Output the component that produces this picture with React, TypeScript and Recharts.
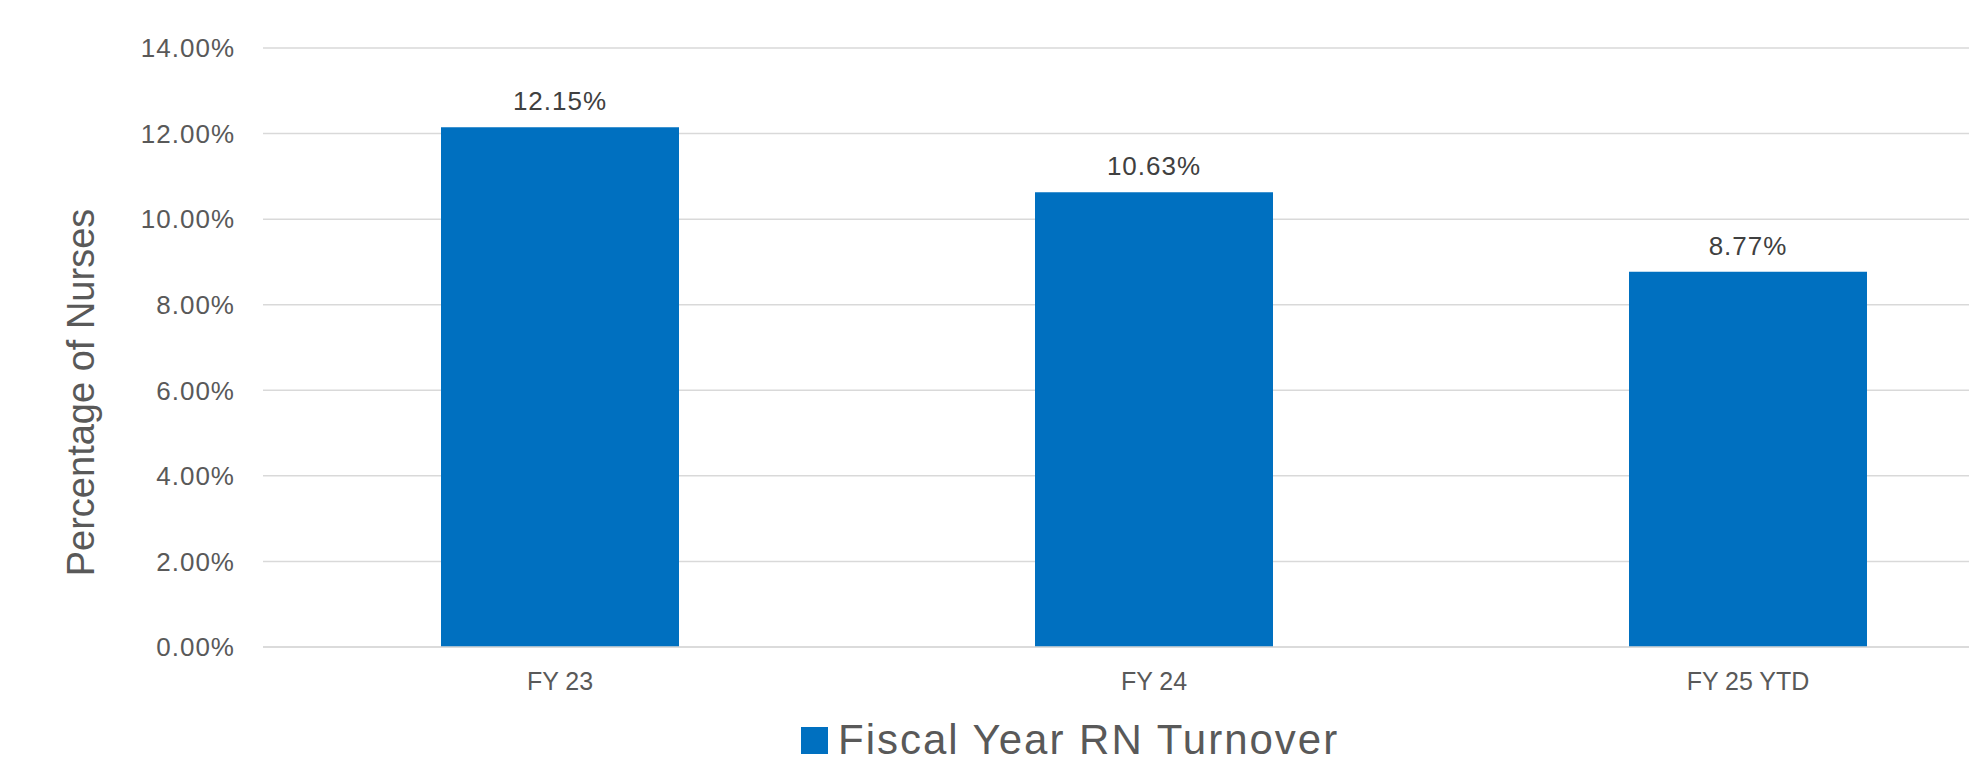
import React from 'react';
import { BarChart, Bar, XAxis, YAxis, CartesianGrid, LabelList, Legend } from 'recharts';

const categories = ['FY 23', 'FY 24', 'FY 25 YTD'];
const turnover = [12.15, 10.63, 8.77];
const yTicks = [0, 2, 4, 6, 8, 10, 12, 14];
const seriesName = 'Fiscal Year RN Turnover';
const axisTitle = 'Percentage of Nurses';

const data = categories.map((c, i) => ({ name: c, value: turnover[i] }));

const FONT = '"Liberation Sans", Arial, sans-serif';
const BLUE = '#0070C0';

const fmt = (v: number) => `${v.toFixed(2)}%`;

const AxisTitle = (props: any) => {
  const vb = props.viewBox || { x: 0, y: 0, width: 0, height: 0 };
  const x = vb.x + 94;
  const y = vb.y + vb.height / 2 + 45;
  return (
    <text
      x={x}
      y={y}
      transform={`rotate(-90, ${x}, ${y})`}
      textAnchor="middle"
      fill="#595959"
      fontSize={38}
      fontFamily={FONT}
    >
      {axisTitle}
    </text>
  );
};

const LegendContent = () => (
  <div
    style={{
      height: 50,
      display: 'flex',
      alignItems: 'center',
      paddingLeft: 801,
      fontFamily: FONT,
      boxSizing: 'border-box',
      position: 'relative',
      top: 3,
    }}
  >
    <div style={{ width: 27, height: 27, background: BLUE, marginRight: 10, flex: '0 0 auto' }} />
    <span style={{ fontSize: 42, color: '#595959', letterSpacing: 2, whiteSpace: 'nowrap', lineHeight: '42px' }}>
      {seriesName}
    </span>
  </div>
);

export default function App() {
  return (
    <div
      style={{
        position: 'fixed',
        left: 0,
        top: 0,
        width: 1969,
        height: 762,
        overflow: 'hidden',
        background: '#ffffff',
      }}
    >
      <BarChart
        width={2050}
        height={762}
        data={data}
        margin={{ top: 48, right: 5, left: 0, bottom: 0 }}
      >
        <CartesianGrid vertical={false} stroke="#D9D9D9" strokeWidth={1.5} />
        <XAxis
          dataKey="name"
          height={65}
          tickLine={false}
          axisLine={{ stroke: '#D9D9D9', strokeWidth: 1.5 }}
          tickMargin={19}
          tick={{ fill: '#595959', fontSize: 25, fontFamily: FONT }}
          interval={0}
        />
        <YAxis
          width={263}
          domain={[0, 14]}
          ticks={yTicks}
          tickFormatter={fmt}
          tickLine={false}
          axisLine={false}
          tickMargin={22}
          tick={{ fill: '#595959', fontSize: 26, fontFamily: FONT, letterSpacing: 1 }}
          label={<AxisTitle />}
        />
        <Legend verticalAlign="bottom" content={<LegendContent />} />
        <Bar dataKey="value" name={seriesName} fill={BLUE} barSize={238} isAnimationActive={false}>
          <LabelList
            dataKey="value"
            position="top"
            offset={17}
            formatter={(v: any) => fmt(Number(v))}
            fill="#404040"
            fontSize={26}
            fontFamily={FONT}
            style={{ letterSpacing: 1 }}
          />
        </Bar>
      </BarChart>
    </div>
  );
}
